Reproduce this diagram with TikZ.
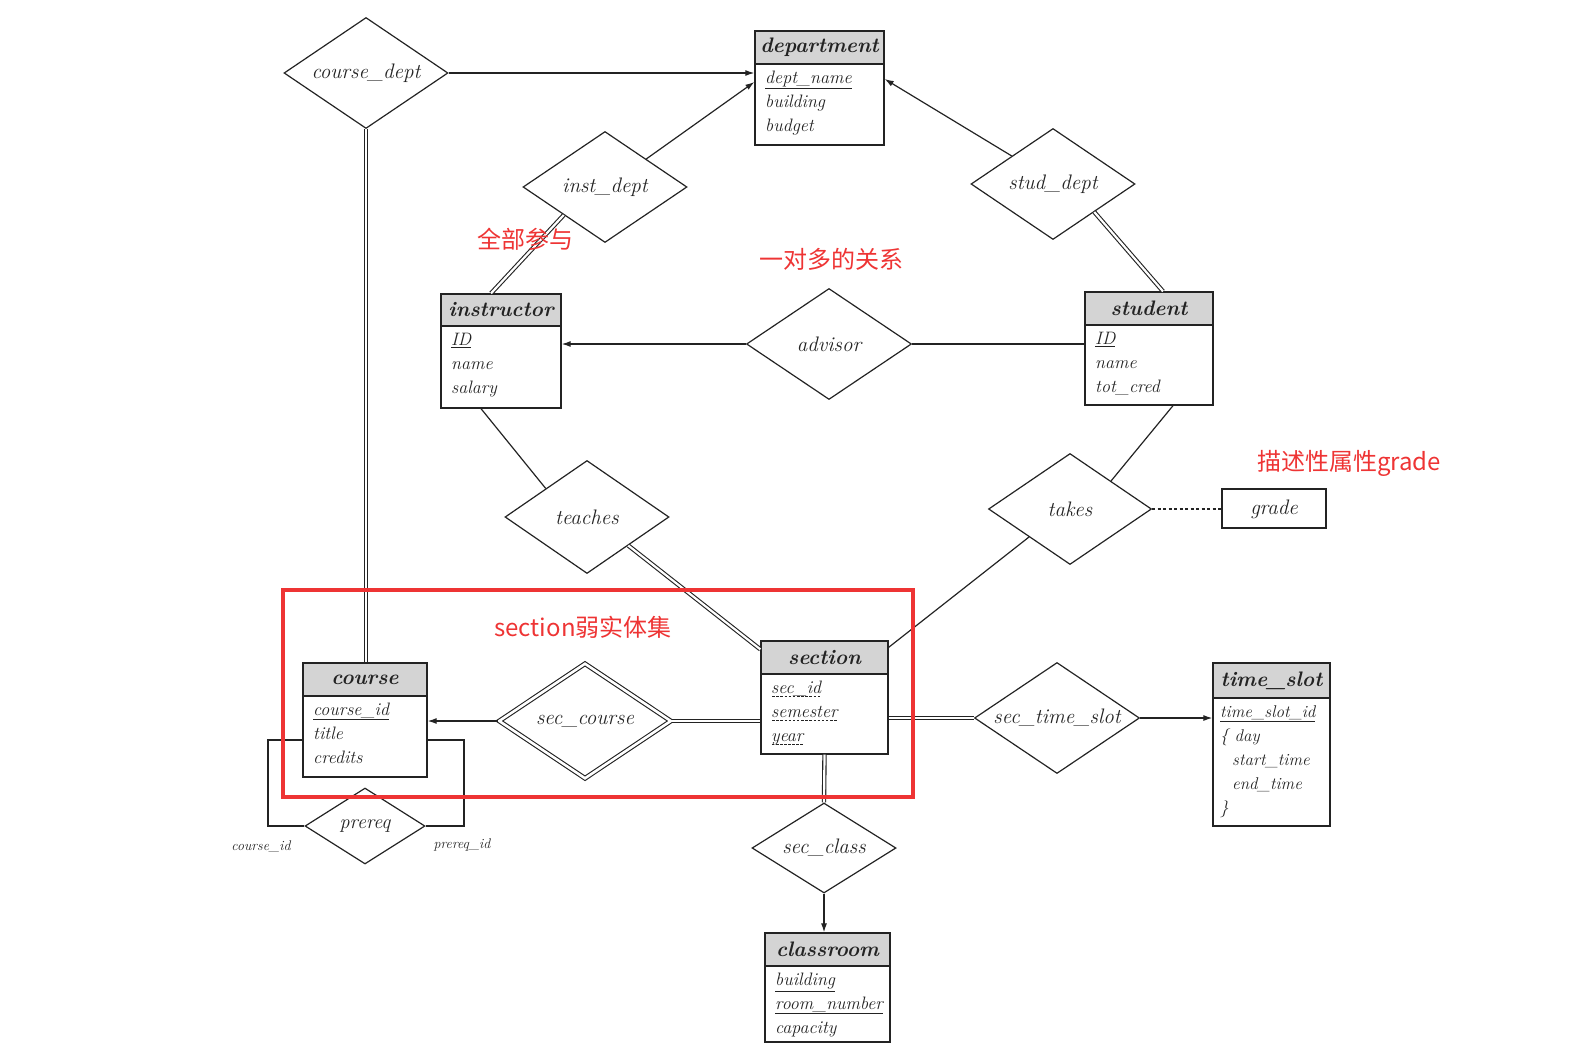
\documentclass[tikz,border=0pt]{standalone}
\usepackage{fontspec}
\newfontfamily\cjk{Noto Sans CJK SC}
\usetikzlibrary{shapes.geometric,arrows.meta,fit,calc}
\definecolor{redmark}{RGB}{238,52,52}
\definecolor{ink}{RGB}{35,35,35}
\definecolor{hdr}{RGB}{212,212,212}
\newcommand\dul[1]{\setbox0=\hbox{#1}\rlap{\hbox to \wd0{\xleaders\hbox to 4pt{\hss\rule[-3pt]{2.5pt}{0.7pt}\hss}\hfill}}\box0}
\tikzset{
  entity/.style={draw=ink, line width=1.3pt, inner sep=0pt},
  enttitle/.style={font=\fontsize{21}{24}\selectfont\bfseries\itshape, text=ink, inner sep=0pt},
  entattr/.style={font=\fontsize{18}{24}\selectfont\itshape, text=ink, align=left, inner sep=0pt},
  rel/.style={diamond, draw=ink, line width=1.2pt, inner sep=0pt},
  rellab/.style={font=\fontsize{21}{24}\selectfont\itshape, text=ink, inner sep=0pt},
  conn/.style={draw=ink, line width=1.2pt},
  dbl/.style={draw=ink, line width=1.1pt, double=white, double distance=2.2pt},
  arr/.style={conn, -{Latex[length=9pt,width=6pt]}},
  note/.style={font=\cjk\fontsize{24}{28}\selectfont, text=redmark, inner sep=0pt},
  lbl/.style={font=\fontsize{14}{16}\selectfont\itshape, text=ink, inner sep=0pt}
}
\newcommand\entbox[8]{%
  \fill[hdr] (#2,#3) rectangle (#4,#6);
  \node[entity, fit={(#2,#3)(#4,#5)}] (#1) {};
  \draw[draw=ink, line width=1.3pt] (#2,#6) -- (#4,#6);
  \node[enttitle] (#1-t) at ({(#2+#4)/2},{(#3+#6)/2}) {#7};
  \node[entattr, anchor=north west] (#1-a) at ({#2+10},{#6+7}) {#8};
}
\begin{document}
\begin{tikzpicture}[x=1pt,y=-1pt]
\useasboundingbox (0,0) rectangle (1586,1054);

% entities
\entbox{dept}{755}{31}{884}{145}{64}{department}{\underline{dept\_name}\\ building\\ budget}
\entbox{instr}{441}{294}{561}{408}{326}{instructor}{\underline{ID}\\ name\\ salary}
\entbox{stud}{1085}{292}{1213}{405}{325}{student}{\underline{ID}\\ name\\ tot\_cred}
\entbox{sect}{761}{641}{888}{754}{674}{section}{\dul{sec\_id}\\ \dul{semester}\\ \dul{year}}
\entbox{course}{303}{663}{427}{777}{696}{course}{\underline{course\_id}\\ title\\ credits}
\fill[hdr] (1213,663) rectangle (1330,698);
\node[entity, fit={(1213,663)(1330,826)}] (ts) {};
\draw[draw=ink, line width=1.3pt] (1213,698) -- (1330,698);
\node[enttitle] (ts-t) at (1271.5,680.5) {time\_slot};
\node[entattr, anchor=north west, font=\fontsize{17}{24}\selectfont\itshape] (ts-a) at (1220,705) {\underline{time\_slot\_id}\\ \{\ day\\ \hspace{12pt}start\_time\\ \hspace{12pt}end\_time\\ \}};
\entbox{cls}{765}{933}{890}{1042}{966}{classroom}{\underline{building}\\ \underline{room\_number}\\ capacity}

\node[entity, fit={(1222,489)(1326,528)}] (grade) {};
\node[rellab] (grade-t) at (1274,509) {grade};

% relationships
\node[rel, minimum width=164, minimum height=111, label={[rellab]center:course\_dept}] (cd) at (366,73) {};
\node[rel, minimum width=164, minimum height=111, label={[rellab]center:inst\_dept}] (idp) at (605,187) {};
\node[rel, minimum width=164, minimum height=111, label={[rellab]center:stud\_dept}] (sdp) at (1053,184) {};
\node[rel, minimum width=165, minimum height=111, label={[rellab]center:advisor}] (adv) at (829,344) {};
\node[rel, minimum width=164, minimum height=113, label={[rellab]center:teaches}] (teach) at (587,517) {};
\node[rel, minimum width=163, minimum height=111, label={[rellab]center:takes}] (takes) at (1070,509) {};
\node[rel, line width=1.1pt, double=white, double distance=2.6pt, minimum width=172, minimum height=115, label={[rellab]center:sec\_course}] (secc) at (585,721) {};
\node[rel, minimum width=165, minimum height=111, label={[rellab]center:sec\_time\_slot}] (sts) at (1057,718) {};
\node[rel, minimum width=144, minimum height=90, label={[rellab]center:sec\_class}] (scl) at (824,848) {};
\node[rel, minimum width=120, minimum height=76, label={[rellab, font=\fontsize{20}{24}\selectfont\itshape]center:prereq}] (pre) at (365,826) {};

% connectors
\draw[arr] (cd.east) -- (dept.west |- cd.east);
\draw[dbl] (cd.south) -- (cd.south |- course.north);
\draw[arr] (idp.north east) -- ($(dept.west)+(0,-6)$);
\draw[dbl] (idp.south west) -- ($(instr.north)+(-10,0)$);
\draw[arr] (sdp.north west) -- ($(dept.east)+(0,-9)$);
\draw[dbl] (sdp.south east) -- ($(stud.north)+(14,0)$);
\draw[arr] (adv.west) -- (instr.east |- adv.west);
\draw[conn] (adv.east) -- (stud.west |- adv.east);
\draw[conn] ($(instr.south)+(-20,0)$) -- (teach.north west);
\draw[dbl] (teach.south east) -- ($(sect.north west)+(0,9)$);
\draw[conn] ($(stud.south)+(24,0)$) -- (takes.north east);
\draw[conn] (takes.south west) -- ($(sect.north east)+(0,7)$);
\draw[conn, dashed, dash pattern=on 3pt off 2.5pt] (takes.east) -- (grade.west |- takes.east);
\draw[arr] (secc.west) -- (course.east |- secc.west);
\draw[dbl] (secc.east) -- (sect.west |- secc.east);
\draw[dbl] (sect.east |- sts.west) -- (sts.west);
\draw[arr] (sts.east) -- (ts.west |- sts.east);
\draw[dbl] (sect.south) -- (scl.north);
\draw[arr] (scl.south) -- (scl.south |- cls.north);
\coordinate (lp1) at (268,740);
\coordinate (rp1) at (464,740);
\draw[conn] (course.west |- lp1) -- (lp1) |- (pre.west);
\draw[conn] (course.east |- rp1) -- (rp1) |- (pre.east);
\node[lbl] (lcid) at (261,847) {course\_id};
\node[lbl] (lpid) at (462,845) {prereq\_id};

% annotations
\node[draw=redmark, line width=4pt, fit={(283,590)(913,797)}, inner sep=0pt] (weakbox) {};
\node[note] (n1) at (525,239) {全部参与};
\node[note] (n2) at (831,259) {一对多的关系};
\node[note] (n3) at (1349,463) {描述性属性grade};
\node[note] (n4) at (583,627) {section弱实体集};
\end{tikzpicture}
\end{document}
